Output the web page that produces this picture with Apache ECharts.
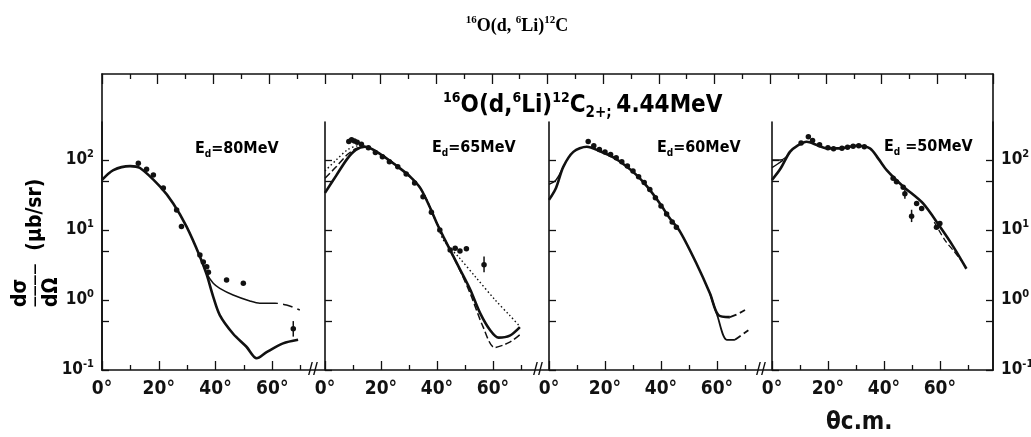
<!DOCTYPE html>
<html>
<head>
<meta charset="utf-8">
<script src="https://cdn.jsdelivr.net/npm/echarts@6/dist/echarts.min.js"></script>
<style>html,body{margin:0;padding:0;background:#fff}#c{width:1031px;height:437px}</style>
</head>
<body>
<div id="c"></div>
<script>
// ---------- data (angle in degrees c.m., cross section in μb/sr) ----------
const ENERGIES = ['80', '65', '60', '50'];
const X_TICK_LABELS = [0, 20, 40, 60];
const X_MINOR_TICKS = [10, 30, 50, 70];
const Y_DECADES = [0.1, 1, 10, 100];
const Y_TICKS = [0.1, 0.5, 1, 5, 10, 50, 100];

// Ed = 80 MeV
const P1_SOLID = [[0,52],[4,72],[9.9,82],[13.4,77],[20.4,42],[25.1,24],[29.8,11.2],[34.5,4.2],[36.9,2.3],[39.2,1.11],[41.5,0.61],[46.2,0.33],[50.9,0.215],[54.5,0.147],[58,0.18],[63.8,0.24],[69.1,0.27]];
const P1_UPPER = [[34.5,4.2],[36.9,2.4],[39.2,1.73],[41.5,1.47],[46.2,1.18],[52.1,0.97],[55.6,0.9],[58.5,0.9]];
const P1_UPPER_TAIL = [[58.5,0.9],[61,0.9],[65,0.85],[69.7,0.72]];
const P1_POINTS = [[12.8,90],[15.7,74],[18.1,61],[21.6,40],[26.3,19.3],[28,11.2],[34.5,4.4],[35.7,3.5],[36.9,3.0],[37.5,2.5],[43.9,1.93],[49.8,1.73],[67.4,0.39]];
const P1_ERR = [[67.4,0.30,0.50]];

// Ed = 65 MeV
const P2_SOLID = [[0,34],[4,60],[8,105],[11,140],[14.3,155],[20,120],[26.8,76],[30.4,58],[34,40],[37.5,21],[39.9,12.6],[42.3,8],[48.3,2.7],[51.9,1.4],[55.4,0.65],[59,0.37],[62,0.29],[66,0.31],[69.6,0.41]];
const P2_DASH = [[0,55],[4,80],[8,120],[11,145],[14.3,155],[20,120],[26.8,76],[34,40],[39.9,12.6],[48.3,2.6],[52,1.2],[56.5,0.41],[60.6,0.21],[66,0.25],[69.6,0.32]];
const P2_DOT = [[0,70],[4,100],[8,140],[12,160],[14.3,158],[20,120],[26.8,76],[34,40],[39.9,12.6],[42.3,7.2],[48,4.0],[53.7,2.15],[60.8,1.0],[66,0.6],[69.6,0.42]];
const P2_POINTS = [[8.5,185],[9.5,195],[10.5,188],[11.5,180],[13,168],[15.5,150],[18,128],[20.5,112],[23,95],[26,80],[29,63],[32,47],[35,30],[38,18],[41,10],[44.7,5.2],[46.5,5.5],[48.2,5.0],[50.5,5.4],[56.8,3.2]];
const P2_ERR = [[56.8,2.5,4.2]];

// Ed = 60 MeV
const P3_SOLID = [[0,27],[2.5,40],[5.1,80],[8.7,131],[13.5,155],[18,135],[23,109],[27,85],[31.3,61],[35,42],[39.6,24],[43,15],[46.8,9.5],[52.7,3.3],[57.5,1.24],[60.5,0.61],[64.6,0.57]];
const P3_UPPER_TAIL = [[64.6,0.57],[67,0.62],[70,0.72]];
const P3_START = [[0,45],[2.5,52],[5.1,80]];
const P3_LOWER = [[57.5,1.24],[60,0.62],[63.5,0.27],[66.4,0.27]];
const P3_LOWER_TAIL = [[66.4,0.27],[68.5,0.31],[71.2,0.37]];
const P3_POINTS = [[14,185],[16,160],[18,142],[20,130],[22,120],[24,108],[26,95],[28,82],[30,70],[32,58],[34,48],[36,38],[38,29],[40,22],[42,17],[44,13],[45.5,11]];

// Ed = 50 MeV
const P4_SOLID = [[0,52],[3,75],[6.4,131],[9,160],[12.4,183],[16,164],[19.5,147],[24.3,147],[30.2,160],[35,147],[38,105],[41,72],[46.9,42],[54,24],[60,11.2],[64.8,5.8],[69.5,2.8]];
const P4_START_A = [[0,100],[3,100],[5,110],[6.4,128]];
const P4_START_B = [[0,78],[2,88],[4,100]];
const P4_LOWER = [[58,13],[62,7],[65,5],[68,3.5]];
const P4_POINTS = [[10.4,175],[13,215],[14.5,190],[17,165],[20,150],[22,145],[25,148],[27,152],[29,158],[31,160],[33,155],[43.3,55],[44.5,49],[46.9,41],[47.5,33],[49.9,15.8],[51.7,24],[53.5,20.4],[58.8,11],[60,12.4]];
const P4_ERR = [[49.9,13,19.5],[47.5,28,38]];

// ---------- layout ----------
const NARROW = "'Liberation Sans Narrow','DejaVu Sans Condensed','Liberation Sans',sans-serif";
const SERIF = "'Liberation Serif','DejaVu Serif',serif";
const INK = '#111111';
const PANELS = [
  {left: 102, width: 210, max: 74},
  {left: 325, width: 210, max: 75},
  {left: 549, width: 210, max: 75},
  {left: 772, width: 221, max: 79}
];
const PANEL_TOP = 122, AXIS_Y = 370, FRAME_TOP = 74, FRAME_LEFT = 102, FRAME_RIGHT = 993;

const supRich = {
  b: {fontSize: 17, fontFamily: NARROW, color: INK, lineHeight: 22, fontWeight: 'bold'},
  s: {fontSize: 11, fontFamily: NARROW, color: INK, lineHeight: 22, verticalAlign: 'top', fontWeight: 'bold'}
};
function yLab(v) {
  const k = Math.round(Math.log10(v));
  return '{b|10}{s|' + (k < 0 ? '-' + (-k) : k) + '}';
}

const grids = [{left: FRAME_LEFT, top: FRAME_TOP, width: FRAME_RIGHT - FRAME_LEFT, height: AXIS_Y - FRAME_TOP, containLabel: false, outerBoundsMode: 'none'}];
PANELS.forEach(p => grids.push({left: p.left, top: PANEL_TOP, width: p.width, height: AXIS_Y - PANEL_TOP, containLabel: false, outerBoundsMode: 'none'}));

const lineOnly = {show: true, onZero: false, lineStyle: {color: INK, width: 1.6}};
const xAxes = [
  {gridIndex: 0, type: 'value', position: 'top', min: 0, max: 320, interval: 20,
   axisLine: lineOnly, axisTick: {show: true, inside: true, length: 10, lineStyle: {color: INK, width: 1.3}},
   minorTick: {show: true, splitNumber: 2, length: 5, lineStyle: {color: INK, width: 1.3}},
   axisLabel: {show: false}, splitLine: {show: false}, minorSplitLine: {show: false}},
  {gridIndex: 0, type: 'value', position: 'bottom', min: 0, max: 1,
   axisLine: lineOnly, axisTick: {show: false}, axisLabel: {show: false}, splitLine: {show: false}}
];
PANELS.forEach((p, i) => {
  xAxes.push({gridIndex: i + 1, type: 'value', position: 'bottom', min: 0, max: p.max,
    axisLine: {show: false, onZero: false},
    axisTick: {show: true, inside: true, length: 9, customValues: X_TICK_LABELS, lineStyle: {color: INK, width: 1.3}},
    axisLabel: {show: true, customValues: X_TICK_LABELS, margin: 10, formatter: v => v + '°',
      fontSize: 19, fontFamily: NARROW, color: INK, fontWeight: 'bold'},
    splitLine: {show: false}});
  xAxes.push({gridIndex: i + 1, type: 'value', position: 'bottom', min: 0, max: p.max,
    axisLine: {show: false, onZero: false},
    axisTick: {show: true, inside: true, length: 5, customValues: X_MINOR_TICKS, lineStyle: {color: INK, width: 1.3}},
    axisLabel: {show: false}, splitLine: {show: false}});
});

const yAxes = [
  {gridIndex: 0, type: 'value', position: 'left', min: 0, max: 1, axisLine: lineOnly, axisTick: {show: false}, axisLabel: {show: false}, splitLine: {show: false}},
  {gridIndex: 0, type: 'value', position: 'right', min: 0, max: 1, axisLine: lineOnly, axisTick: {show: false}, axisLabel: {show: false}, splitLine: {show: false}}
];
PANELS.forEach((p, i) => {
  yAxes.push({gridIndex: i + 1, type: 'log', position: 'left', min: 0.1, max: 350,
    axisLine: lineOnly,
    axisTick: {show: true, inside: true, length: 7, customValues: Y_TICKS, lineStyle: {color: INK, width: 1.3}},
    axisLabel: {show: i === 0, customValues: Y_DECADES, formatter: yLab, rich: supRich, margin: 8},
    splitLine: {show: false}});
});
yAxes.push({gridIndex: 4, type: 'log', position: 'right', min: 0.1, max: 350,
  axisLine: lineOnly,
  axisTick: {show: true, inside: true, length: 7, customValues: Y_TICKS, lineStyle: {color: INK, width: 1.3}},
  axisLabel: {show: true, customValues: Y_DECADES, formatter: yLab, rich: supRich, margin: 8},
  splitLine: {show: false}});

const series = [];
function curve(data, p, width, type) {
  series.push({type: 'line', xAxisIndex: 2 + 2 * p, yAxisIndex: 2 + p, data: data,
    symbol: 'none', smooth: 0.3, silent: true, animation: false,
    lineStyle: {color: INK, width: width, type: type || 'solid', opacity: 1}});
}
function pts(data, p) {
  series.push({type: 'scatter', xAxisIndex: 2 + 2 * p, yAxisIndex: 2 + p, data: data,
    symbol: 'circle', symbolSize: 5.5, itemStyle: {color: INK, opacity: 1}, silent: true, animation: false});
}
function err(data, p) {
  series.push({type: 'custom', xAxisIndex: 2 + 2 * p, yAxisIndex: 2 + p, data: data,
    encode: {x: 0, y: [1, 2]}, silent: true, animation: false,
    renderItem: function (params, api) {
      const a = api.coord([api.value(0), api.value(1)]);
      const b = api.coord([api.value(0), api.value(2)]);
      return {type: 'line', shape: {x1: a[0], y1: a[1], x2: b[0], y2: b[1]}, style: {stroke: INK, lineWidth: 1.5}};
    }});
}
curve(P1_SOLID, 0, 2.6); curve(P1_UPPER, 0, 1.5); curve(P1_UPPER_TAIL, 0, 1.5, [10, 5]);
pts(P1_POINTS, 0); err(P1_ERR, 0);
curve(P2_SOLID, 1, 2.6); curve(P2_DASH, 1, 1.5, [7, 3]); curve(P2_DOT, 1, 1.4, [1.5, 2.5]);
pts(P2_POINTS, 1); err(P2_ERR, 1);
curve(P3_SOLID, 2, 2.6); curve(P3_START, 2, 1.4); curve(P3_LOWER, 2, 1.8); curve(P3_UPPER_TAIL, 2, 1.8, [7, 4]); curve(P3_LOWER_TAIL, 2, 1.8, [7, 4]);
pts(P3_POINTS, 2);
curve(P4_SOLID, 3, 2.6); curve(P4_START_A, 3, 1.4); curve(P4_START_B, 3, 1.4); curve(P4_LOWER, 3, 1.3, [6, 3]);
pts(P4_POINTS, 3); err(P4_ERR, 3);

// ---------- texts ----------
const graphic = [];
// main title
graphic.push({type: 'text', x: 517, y: 26, style: {
  text: '{s|16}{t|O(d, }{s|6}{t|Li)}{s|12}{t|C}', align: 'center', verticalAlign: 'middle',
  rich: {t: {fontFamily: SERIF, fontWeight: 'bold', fontSize: 18, lineHeight: 22, color: INK},
         s: {fontFamily: SERIF, fontWeight: 'bold', fontSize: 11, lineHeight: 22, verticalAlign: 'top', color: INK}}}});
// inner title
graphic.push({type: 'text', x: 443, y: 106, style: {
  text: '{s|16}{t|O(d,}{s|6}{t|Li)}{s|12}{t|C}{u|2+; }{t|4.44MeV}', align: 'left', verticalAlign: 'middle',
  rich: {t: {fontFamily: NARROW, fontWeight: 'bold', fontSize: 24, lineHeight: 30, color: INK},
         s: {fontFamily: NARROW, fontWeight: 'bold', fontSize: 14, lineHeight: 30, verticalAlign: 'top', color: INK},
         u: {fontFamily: NARROW, fontWeight: 'bold', fontSize: 15, lineHeight: 30, verticalAlign: 'bottom', color: INK}}}});
// energy labels
const E_POS = [[195, 149], [432, 148], [657, 148], [884, 147]];
ENERGIES.forEach((e, i) => {
  graphic.push({type: 'text', x: E_POS[i][0], y: E_POS[i][1], style: {
    text: '{t|E}{d|d}{t|' + (i === 3 ? ' ' : '') + '=' + e + 'MeV}', align: 'left', verticalAlign: 'middle',
    rich: {t: {fontFamily: NARROW, fontWeight: 'bold', fontSize: 16, lineHeight: 20, color: INK},
           d: {fontFamily: NARROW, fontWeight: 'bold', fontSize: 10, lineHeight: 20, verticalAlign: 'bottom', color: INK}}}});
});
// y-axis name (rotated)
graphic.push({type: 'text', x: 12, y: 307, rotation: Math.PI / 2, style: {
  text: '{n|dσ}\n{bar|————}{u|  (μb/sr)}\n{n|dΩ}', align: 'left', verticalAlign: 'top',
  rich: {n: {fontFamily: NARROW, fontWeight: 'bold', fontSize: 21, lineHeight: 17, color: INK},
         bar: {fontFamily: NARROW, fontWeight: 'bold', fontSize: 12, lineHeight: 14, color: INK},
         u: {fontFamily: NARROW, fontWeight: 'bold', fontSize: 21, lineHeight: 14, color: INK}}}});
// axis title
graphic.push({type: 'text', x: 826, y: 423, style: {text: 'θc.m.', align: 'left', verticalAlign: 'middle',
  font: 'bold 24px ' + NARROW, fill: INK}});
// axis breaks
[313, 538, 761].forEach(bx => {
  graphic.push({type: 'text', x: bx, y: AXIS_Y, style: {text: '//', align: 'center', verticalAlign: 'middle',
    font: 'bold 15px ' + NARROW, fill: INK, backgroundColor: '#fff'}});
});

const chart = echarts.init(document.getElementById('c'), null, {renderer: 'canvas'});
chart.setOption({
  animation: false,
  backgroundColor: '#fff',
  grid: grids, xAxis: xAxes, yAxis: yAxes, series: series, graphic: graphic
});
</script>
</body>
</html>
